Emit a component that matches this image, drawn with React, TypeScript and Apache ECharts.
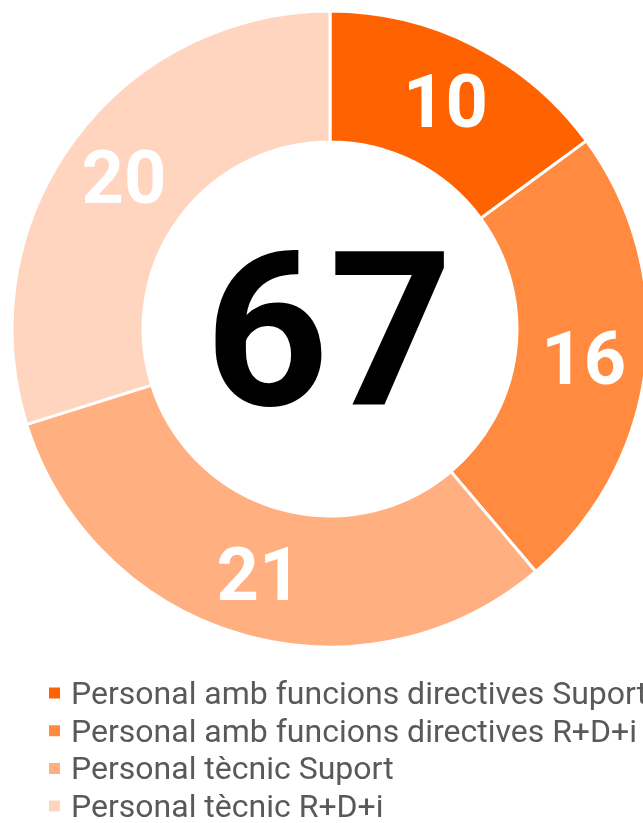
import React, { useEffect, useRef } from "react";
import * as echarts from "echarts";

const categories = [
  "Personal amb funcions directives Suport",
  "Personal amb funcions directives R+D+i",
  "Personal tècnic Suport",
  "Personal tècnic R+D+i",
];
const values = [10, 16, 21, 20];
const colors = ["#FF6200", "#FF8A40", "#FFAF80", "#FFD5BF"];
const total = values.reduce((a, b) => a + b, 0);

export default function App() {
  const ref = useRef<HTMLDivElement>(null);
  useEffect(() => {
    if (!ref.current) return;
    const chart = echarts.init(ref.current, undefined, { renderer: "svg" });
    chart.setOption({
      animation: false,
      color: colors,
      legend: {
        orient: "vertical",
        left: 47,
        top: 677,
        height: 300,
        padding: 0,
        icon: "rect",
        itemWidth: 13,
        itemHeight: 13,
        itemGap: 5.7,
        selectedMode: false,
        textStyle: {
          fontFamily: "Roboto",
          fontSize: 32,
          lineHeight: 30,
          color: "#595959",
          padding: [0, 0, 0, 5],
        },
        data: categories,
      },
      graphic: [
        {
          type: "text",
          x: 329,
          y: 331,
          style: {
            text: String(total),
            fontFamily: "Roboto",
            fontWeight: "bold",
            fontSize: 216,
            fill: "#000",
            align: "center",
            verticalAlign: "middle",
          },
        },
      ],
      series: [
        {
          type: "pie",
          center: [330, 329],
          radius: [187, 318],
          startAngle: 90,
          clockwise: true,
          avoidLabelOverlap: false,
          itemStyle: { borderColor: "#fff", borderWidth: 3 },
          label: {
            show: true,
            position: "inside",
            formatter: "{c}",
            color: "#fff",
            fontFamily: "Roboto",
            fontWeight: "bold",
            fontSize: 74,
          },
          labelLine: { show: false },
          emphasis: { disabled: true },
          data: categories.map((name, i) => ({ name, value: values[i] })),
        },
      ],
    });
    return () => chart.dispose();
  }, []);
  return (
    <div
      ref={ref}
      style={{ position: "fixed", left: 0, top: 0, width: 643, height: 823 }}
    />
  );
}
